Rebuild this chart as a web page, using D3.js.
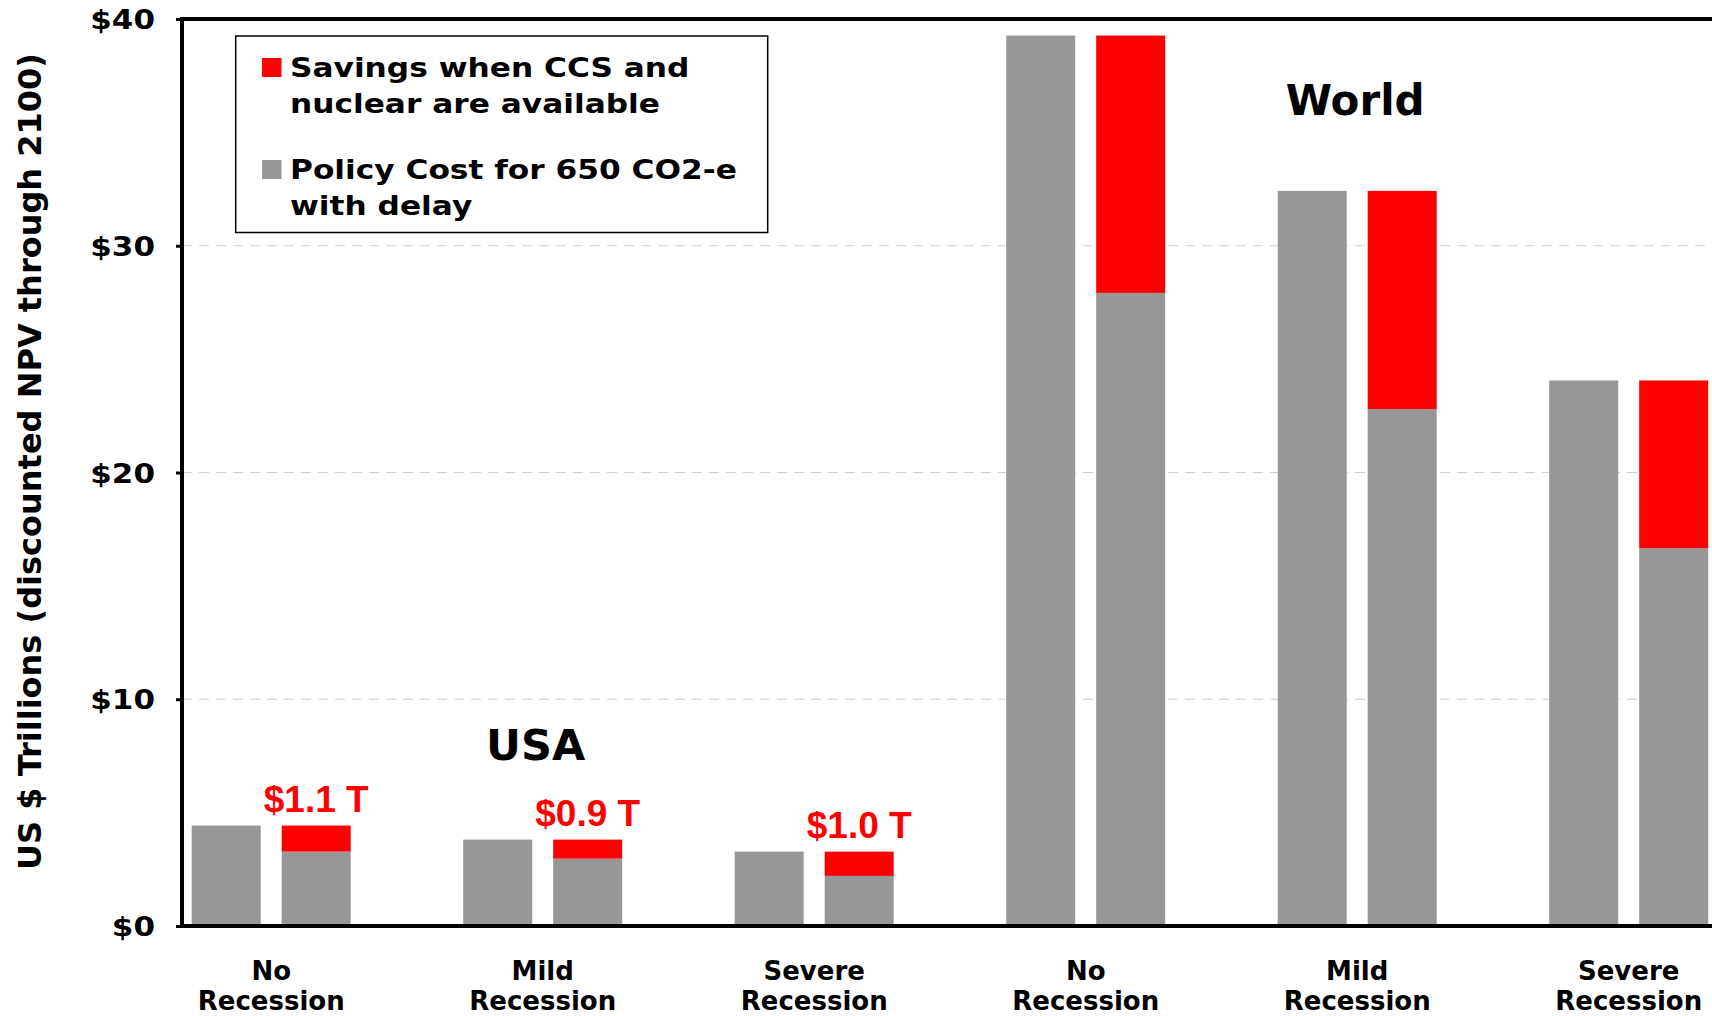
<!DOCTYPE html>
<html>
<head>
<meta charset="utf-8">
<script src="https://cdn.jsdelivr.net/npm/d3@7"></script>
<style>
  html, body { margin: 0; padding: 0; background: #ffffff; }
  svg { display: block; }
</style>
</head>
<body>
<svg id="chart" width="1712" height="1016"></svg>
<script>
// ---------------- data ----------------
const regions = ["USA", "USA", "USA", "World", "World", "World"];
const scenarioLine1 = ["No", "Mild", "Severe", "No", "Mild", "Severe"];
const scenarioLine2 = ["Recession", "Recession", "Recession", "Recession", "Recession", "Recession"];
// Policy cost for 650 CO2-e with delay (left bar, US$ trillions)
const policyCost = [4.43, 3.81, 3.28, 39.27, 32.42, 24.06];
// Cost when CCS and nuclear are available (grey base of right bar)
const costWithCCS = [3.28, 2.97, 2.21, 27.92, 22.80, 16.66];
// Savings when CCS and nuclear are available (red part of right bar)
const savings = [1.15, 0.84, 1.07, 11.35, 9.62, 7.40];
const savingsLabels = ["$1.1 T", "$0.9 T", "$1.0 T", "", "", ""];
const yTicks = [0, 10, 20, 30, 40];
const yTickLabels = ["$0", "$10", "$20", "$30", "$40"];
const legendItems = [
  { key: "savings", lines: ["Savings when CCS and", "nuclear are available"] },
  { key: "policy", lines: ["Policy Cost for 650 CO2-e", "with delay"] }
];
const regionTitles = ["USA", "World"];
const yTitle = "US $ Trillions (discounted NPV through 2100)";

// ---------------- style ----------------
const GREY = "#979797";
const RED = "#ff0000";
const FONT = "'DejaVu Sans', Verdana, sans-serif";
const ARIAL = "'Liberation Sans', Arial, sans-serif";
const colors = { savings: RED, policy: GREY };

const svg = d3.select("#chart");
const W = 1712, H = 1016;
const axisX = 182, topY = 19, baseY = 926;

const idx = d3.range(policyCost.length);
const step = 271.5;
const x = d3.scaleBand().domain(idx).range([271.2 - step / 2, 271.2 - step / 2 + 6 * step]).paddingInner(0).paddingOuter(0);
const bw = x.bandwidth();
const xSub = d3.scaleBand().domain(["policy", "ccs"]).range([bw / 2 - 79.5, bw / 2 + 79.5]).paddingInner(21 / 90).paddingOuter(0);
const y = d3.scaleLinear().domain([0, 40]).range([baseY, topY]);

// gridlines
svg.append("g").selectAll("line").data(yTicks.filter(d => d > 0 && d < 40)).join("line")
  .attr("x1", axisX).attr("x2", W)
  .attr("y1", d => y(d)).attr("y2", d => y(d))
  .attr("stroke", "#cfcfcf").attr("stroke-width", 1.2).attr("stroke-dasharray", "10,7");

// bars
const groups = svg.append("g").selectAll("g").data(idx).join("g")
  .attr("transform", i => `translate(${x(i)},0)`);

groups.append("rect")
  .attr("x", xSub("policy")).attr("width", xSub.bandwidth())
  .attr("y", i => y(policyCost[i])).attr("height", i => y(0) - y(policyCost[i]))
  .attr("fill", GREY);

groups.append("rect")
  .attr("x", xSub("ccs")).attr("width", xSub.bandwidth())
  .attr("y", i => y(costWithCCS[i])).attr("height", i => y(0) - y(costWithCCS[i]))
  .attr("fill", GREY);

groups.append("rect")
  .attr("x", xSub("ccs")).attr("width", xSub.bandwidth())
  .attr("y", i => y(costWithCCS[i] + savings[i]))
  .attr("height", i => y(costWithCCS[i]) - y(costWithCCS[i] + savings[i]))
  .attr("fill", RED);

// savings labels
groups.filter(i => savingsLabels[i]).append("text")
  .attr("x", xSub("ccs") + xSub.bandwidth() / 2)
  .attr("y", i => y(costWithCCS[i] + savings[i]) - 13.5)
  .attr("text-anchor", "middle")
  .attr("font-family", ARIAL).attr("font-weight", "bold").attr("font-size", 37)
  .attr("fill", RED)
  .text(i => savingsLabels[i]);

// frame (top, left, bottom)
svg.append("path")
  .attr("d", `M${W + 10},${topY} H${axisX} V${baseY} H${W + 10}`)
  .attr("fill", "none").attr("stroke", "#000").attr("stroke-width", 4)
  .attr("stroke-linejoin", "miter");

// y axis with ticks
const yAxis = d3.axisLeft(y).tickValues(yTicks).tickSize(6).tickPadding(0)
  .tickFormat((d, i) => yTickLabels[i]);
const gy = svg.append("g").attr("transform", `translate(${axisX},0)`).call(yAxis);
gy.select(".domain").remove();
gy.selectAll(".tick line").attr("stroke", "#000").attr("stroke-width", 3);
gy.selectAll(".tick text")
  .attr("x", 0).attr("dy", "0.36em")
  .attr("transform", `translate(${155 - axisX},0) scale(1.17,1)`)
  .attr("text-anchor", "end")
  .attr("font-family", FONT).attr("font-weight", "bold").attr("font-size", 26.5)
  .attr("fill", "#000");

// category labels
const catG = svg.append("g").selectAll("g").data(idx).join("g")
  .attr("transform", i => `translate(${x(i) + bw / 2},0)`);
catG.append("text").attr("y", 980).attr("text-anchor", "middle")
  .attr("font-family", FONT).attr("font-weight", "bold").attr("font-size", 26)
  .text(i => scenarioLine1[i]);
catG.append("text").attr("y", 1010).attr("text-anchor", "middle")
  .attr("font-family", FONT).attr("font-weight", "bold").attr("font-size", 26)
  .text(i => scenarioLine2[i]);

// region titles
svg.append("text").attr("x", x(1) + bw / 2 - 7).attr("y", y(7.3))
  .attr("text-anchor", "middle").attr("font-family", FONT).attr("font-weight", "bold").attr("font-size", 43)
  .text(regionTitles[0]);
svg.append("text").attr("x", x(4) + bw / 2 - 2).attr("y", y(35.75))
  .attr("text-anchor", "middle").attr("font-family", FONT).attr("font-weight", "bold").attr("font-size", 42)
  .text(regionTitles[1]);

// y axis title
svg.append("text")
  .attr("transform", `translate(40.5,${(53 + 870) / 2}) rotate(-90)`)
  .attr("text-anchor", "middle")
  .attr("font-family", FONT).attr("font-weight", "bold").attr("font-size", 32)
  .text(yTitle);

// legend
const lg = svg.append("g");
lg.append("rect").attr("x", 235.7).attr("y", 36).attr("width", 532).attr("height", 196.5)
  .attr("fill", "#fff").attr("stroke", "#000").attr("stroke-width", 1.5);
const itemTop = [58, 160];
legendItems.forEach((it, k) => {
  lg.append("rect").attr("x", 262).attr("y", itemTop[k]).attr("width", 19.5).attr("height", 19)
    .attr("fill", colors[it.key]);
  it.lines.forEach((line, j) => {
    lg.append("text")
      .attr("transform", `translate(290,${itemTop[k] + 19 + j * 36}) scale(1.17,1)`)
      .attr("font-family", FONT).attr("font-weight", "bold").attr("font-size", 26.7)
      .attr("fill", "#000")
      .text(line);
  });
});
</script>
</body>
</html>
